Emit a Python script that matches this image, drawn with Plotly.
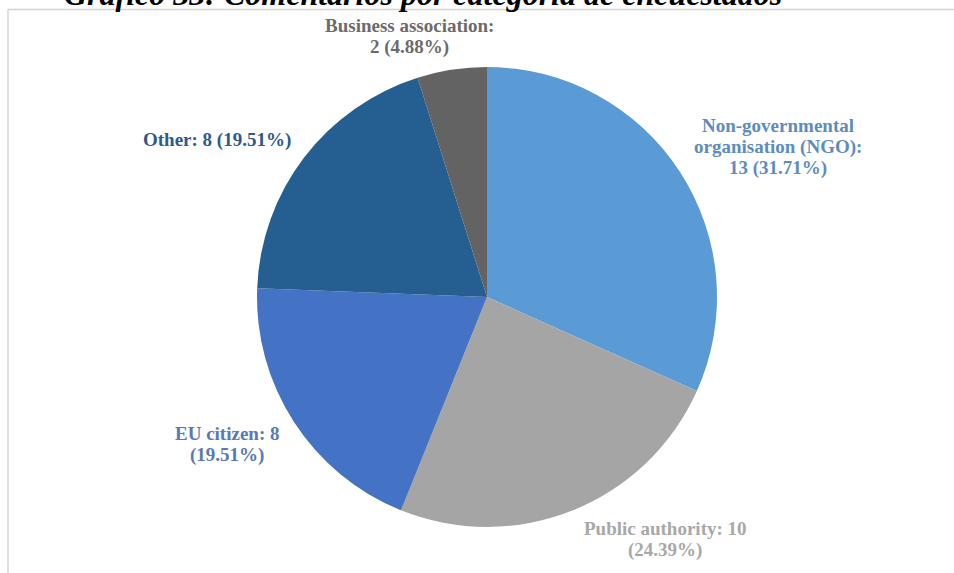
import plotly.graph_objects as go

# Respondent categories and number of comments
categories = ["Non-governmental organisation (NGO)", "Public authority", "EU citizen",
              "Other", "Business association"]
label_names = ["Non-governmental<br>organisation (NGO):", "Public authority:", "EU citizen:",
               "Other:", "Business association:"]
counts = [13, 10, 8, 8, 2]
slice_colors = ["#5B9BD5", "#A5A5A5", "#4472C4", "#255E91", "#636363"]
label_colors = ["#5E8CC0", "#A8A8A8", "#5A78B6", "#2F5A86", "#6B6B6B"]
title_text = "Gráfico 33: Comentarios por categoría de encuestados"

W, H = 954, 573


def px(x):
    return x / W


def py(y):
    return 1 - y / H


total = sum(counts)
pcts = [c / total * 100 for c in counts]

# Line layout of each data label
label_texts = [
    f"{label_names[0]}<br>{counts[0]} ({pcts[0]:.2f}%)",
    f"{label_names[1]} {counts[1]}<br>({pcts[1]:.2f}%)",
    f"{label_names[2]} {counts[2]}<br>({pcts[2]:.2f}%)",
    f"{label_names[3]} {counts[3]} ({pcts[3]:.2f}%)",
    f"{label_names[4]}<br>{counts[4]} ({pcts[4]:.2f}%)",
]
# centre x of each label and the y of its first line (pixels)
label_pos = [(778, 125), (665, 528), (227, 433), (217, 140), (409, 25)]
line_step = 21.5

cx, cy, r = 487, 297, 230

fig = go.Figure(go.Pie(
    labels=categories,
    values=counts,
    sort=False,
    direction="clockwise",
    rotation=0,
    marker=dict(colors=slice_colors, line=dict(width=0)),
    textinfo="none",
    hoverinfo="label+value+percent",
    showlegend=False,
    domain=dict(x=[px(cx - r), px(cx + r)], y=[py(cy + r), py(cy - r)]),
))

annotations = []
for txt, (x, y0), col in zip(label_texts, label_pos, label_colors):
    for i, line in enumerate(txt.split("<br>")):
        annotations.append(dict(
            x=px(x), y=py(y0 + i * line_step), xref="paper", yref="paper",
            xanchor="center", yanchor="middle", align="center",
            text=line, showarrow=False,
            font=dict(family="Liberation Serif", size=19, color=col, weight="bold"),
        ))

annotations.append(dict(
    x=px(423), y=py(-6), xref="paper", yref="paper",
    xanchor="center", yanchor="middle",
    text=title_text, showarrow=False,
    font=dict(family="Liberation Serif", size=32, color="#000000",
              weight="bold", style="italic"),
))

# Chart-area frame (top and left edges)
shapes = [
    dict(type="line", xref="paper", yref="paper", x0=px(8), y0=py(H), x1=px(8), y1=py(9.5),
         line=dict(color="#D4D4D4", width=1.5)),
    dict(type="line", xref="paper", yref="paper", x0=px(8), y0=py(9.5), x1=px(W), y1=py(9.5),
         line=dict(color="#D4D4D4", width=1.5)),
]

fig.update_layout(
    width=W, height=H,
    margin=dict(l=0, r=0, t=0, b=0),
    paper_bgcolor="white", plot_bgcolor="white",
    annotations=annotations,
    shapes=shapes,
)

fig.write_html("out.html")
